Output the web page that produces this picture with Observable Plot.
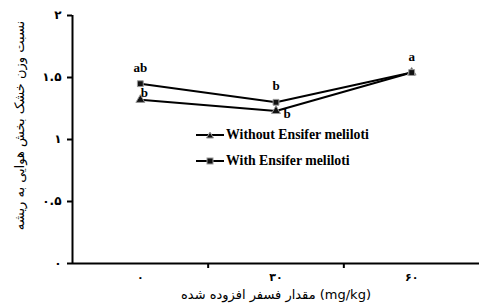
<!DOCTYPE html>
<html><head><meta charset="utf-8">
<script src="https://cdn.jsdelivr.net/npm/d3@7"></script>
<script src="https://cdn.jsdelivr.net/npm/@observablehq/plot@0.6"></script>
<style>
body{margin:0;background:#fff;}
#wrap{position:relative;width:479px;height:308px;}
#legend{position:absolute;left:196px;top:122px;font-family:"Liberation Serif",serif;font-weight:bold;font-size:13.8px;color:#000;}
#legend div{display:flex;align-items:center;height:26px;}
#legend svg{margin-right:2px;}
</style></head>
<body><div id="wrap"><div id="legend"></div></div>
<script>
const doses = ["0", "30", "60"];
const doseLabels = ["۰", "۳۰", "۶۰"];
const withoutVals = [1.32, 1.23, 1.54];
const withVals = [1.45, 1.30, 1.54];
const withoutLetters = ["b", "b", ""];
const withLetters = ["ab", "b", "a"];
const seriesNames = ["Without Ensifer meliloti", "With Ensifer meliloti"];
const yTicks = [0, 0.5, 1, 1.5, 2];
const yTickLabels = ["۰", "۰.۵", "۱", "۱.۵", "۲"];
const yTitle = "نسبت وزن خشک بخش هوایی به ریشه";
const xTitle = "مقدار فسفر افزوده شده (mg/kg)";

const idx = doses.map((d, i) => i);
const rowsWithout = idx.map(i => ({x: i, y: withoutVals[i], l: withoutLetters[i]}));
const rowsWith = idx.map(i => ({x: i, y: withVals[i], l: withLetters[i]}));
const persian = "DejaVu Sans, sans-serif";
const serif = "Liberation Serif, serif";

const chart = Plot.plot({
  width: 479, height: 308,
  marginLeft: 72, marginRight: 0, marginTop: 15, marginBottom: 45,
  x: {domain: [-0.5, idx.length - 0.5]},
  y: {domain: [0, 2]},
  marks: [
    Plot.axisY({ticks: yTicks, tickFormat: d => yTickLabels[yTicks.indexOf(d)], tickSize: 5, tickPadding: 6,
      fontSize: 12, fontFamily: persian, fontWeight: "bold", strokeWidth: 2,
      label: yTitle, labelAnchor: "center", labelOffset: 58, labelArrow: "none"}),
    Plot.axisX({ticks: idx.slice(0, -1).map(i => i + 0.5), tickFormat: () => "", tickSize: 5, strokeWidth: 2, label: null}),
    Plot.axisX({ticks: idx, tickFormat: i => doseLabels[i], tickSize: 0, tickPadding: 10,
      fontSize: 11, fontFamily: persian, fontWeight: "bold",
      label: xTitle, labelAnchor: "center", labelOffset: 35, labelArrow: "none"}),
    Plot.ruleX([-0.5], {stroke: "#000", strokeWidth: 2}),
    Plot.ruleY([0], {stroke: "#000", strokeWidth: 2}),
    Plot.line(rowsWithout, {x: "x", y: "y", stroke: "#000", strokeWidth: 2}),
    Plot.line(rowsWith, {x: "x", y: "y", stroke: "#000", strokeWidth: 2}),
    Plot.dot(rowsWithout, {x: "x", y: "y", symbol: "triangle", r: 3.3, fill: "#111", stroke: "#999", strokeWidth: 1}),
    Plot.dot(rowsWith, {x: "x", y: "y", symbol: "square", r: 3.3, fill: "#111", stroke: "#999", strokeWidth: 1}),
    Plot.text(rowsWith, {x: "x", y: "y", text: "l", dy: -16, fontSize: 13, fontWeight: "bold", fontFamily: serif}),
    Plot.text(rowsWithout.slice(0, 1), {x: "x", y: "y", text: "l", dx: 4, dy: -7, fontSize: 13, fontWeight: "bold", fontFamily: serif}),
    Plot.text(rowsWithout.slice(1, 2), {x: "x", y: "y", text: "l", dx: 11, dy: 3, fontSize: 13, fontWeight: "bold", fontFamily: serif})
  ]
});
chart.querySelectorAll("g[aria-label='y-axis label'], g[aria-label='x-axis label']").forEach(g => g.setAttribute("font-weight", "normal"));
chart.querySelectorAll("g[aria-label='y-axis label'] text, g[aria-label='x-axis label'] text").forEach(t => {
  t.setAttribute("font-family", persian); t.setAttribute("font-size", "13"); t.setAttribute("font-weight", "normal");
});
const yl = chart.querySelector("g[aria-label='y-axis label'] text");
if (yl) yl.setAttribute("dx", "14");
document.getElementById("wrap").prepend(chart);

const legend = document.getElementById("legend");
const syms = ["tri", "sq"];
seriesNames.forEach((name, i) => {
  const row = document.createElement("div");
  const sym = syms[i] === "tri"
    ? '<polygon points="14,2 17.5,8 10.5,8" fill="#111" stroke="#999" stroke-width="1"/>'
    : '<rect x="11" y="2" width="6" height="6" fill="#111" stroke="#999" stroke-width="1"/>';
  row.innerHTML = `<svg width="28" height="10"><line x1="0" x2="28" y1="5" y2="5" stroke="#000" stroke-width="2"/>${sym}</svg><span>${name}</span>`;
  legend.appendChild(row);
});
</script>
</body></html>
